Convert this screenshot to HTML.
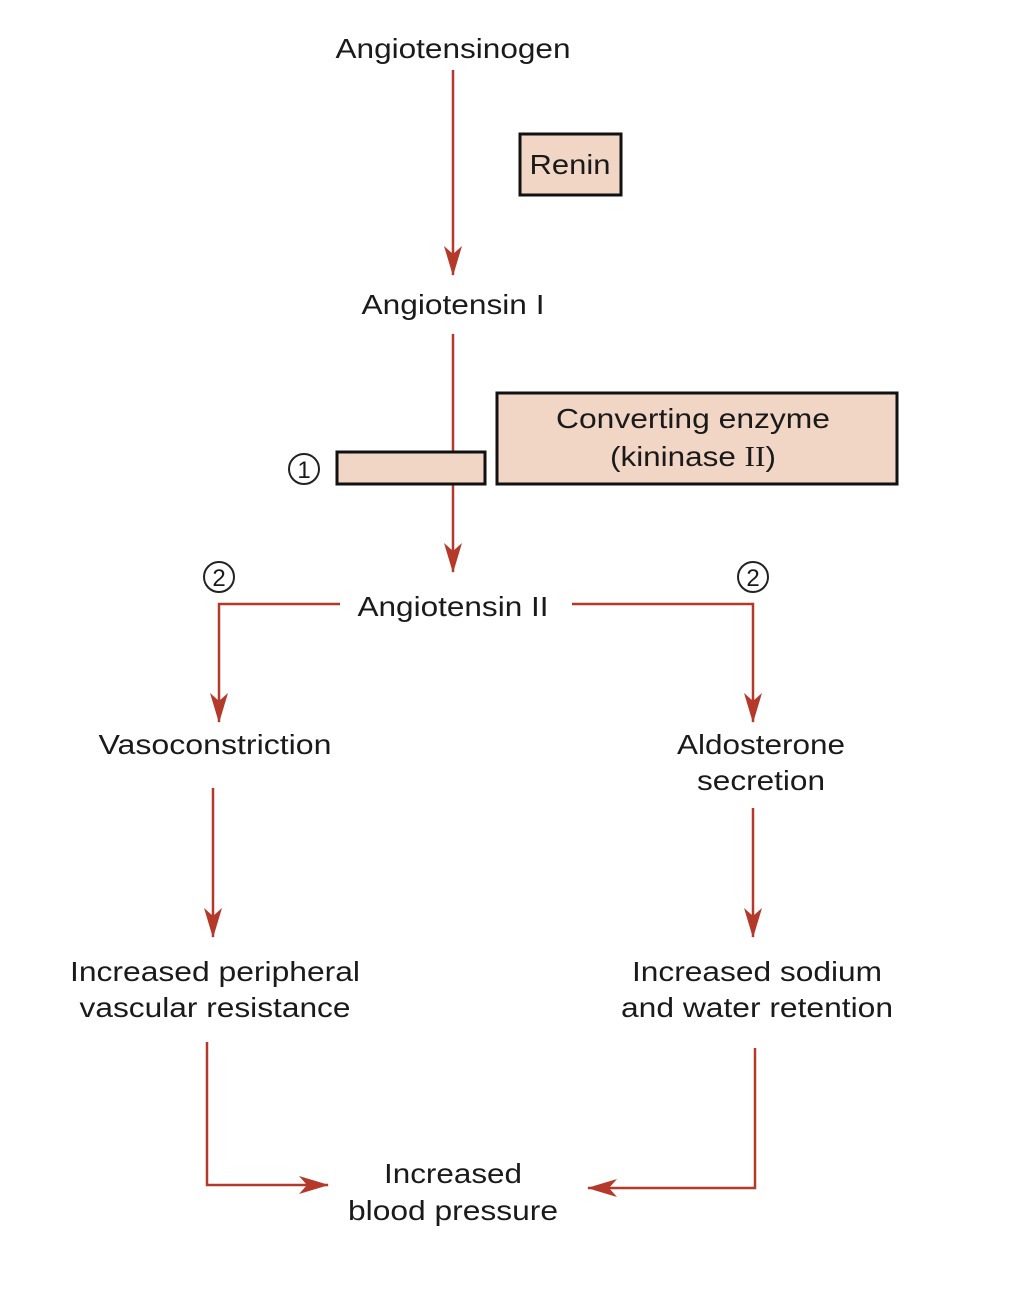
<!DOCTYPE html>
<html><head><meta charset="utf-8"><style>
html,body{margin:0;padding:0;background:#fff;}
svg{display:block;}
text{font-family:"Liberation Sans",Arial,sans-serif;font-size:28px;fill:#1a1a1a;}
</style></head><body>
<svg width="1009" height="1301" viewBox="0 0 1009 1301" xmlns="http://www.w3.org/2000/svg">
<defs>
<marker id="a" markerWidth="30" markerHeight="18" refX="29" refY="9" orient="auto" markerUnits="userSpaceOnUse" viewBox="0 0 30 18">
<path d="M0,0 L30,9 L0,18 L8,9 Z" fill="#b5392a"/>
</marker>
</defs>
<g stroke="#b5392a" stroke-width="2.5" fill="none">
<line x1="453" y1="70" x2="453" y2="275" marker-end="url(#a)"/>
<line x1="453" y1="334" x2="453" y2="572" marker-end="url(#a)"/>
<polyline points="340,604 219,604 219,722" marker-end="url(#a)"/>
<polyline points="572,604 753,604 753,722" marker-end="url(#a)"/>
<line x1="213" y1="788" x2="213" y2="937" marker-end="url(#a)"/>
<line x1="753" y1="808" x2="753" y2="937" marker-end="url(#a)"/>
<polyline points="207,1042 207,1185 328,1185" marker-end="url(#a)"/>
<polyline points="755,1048 755,1188 588,1188" marker-end="url(#a)"/>
</g>
<rect x="520" y="134" width="101" height="61" fill="#f1d5c5" stroke="#111" stroke-width="3"/>
<rect x="337" y="452" width="148" height="32" fill="#f1d5c5" stroke="#111" stroke-width="3"/>
<rect x="497" y="393" width="400" height="91" fill="#f1d5c5" stroke="#111" stroke-width="3"/>
<g fill="none" stroke="#222" stroke-width="2">
<circle cx="304" cy="469" r="15"/>
<circle cx="219" cy="577" r="15"/>
<circle cx="753" cy="577" r="15"/>
</g>
<g text-anchor="middle">
<text x="304" y="478" style="font-size:24px">1</text>
<text x="219" y="586" style="font-size:24px">2</text>
<text x="753" y="586" style="font-size:24px">2</text>
<text x="453" y="58" textLength="235" lengthAdjust="spacingAndGlyphs">Angiotensinogen</text>
<text x="570" y="174" textLength="81" lengthAdjust="spacingAndGlyphs">Renin</text>
<text x="453" y="314" textLength="183" lengthAdjust="spacingAndGlyphs">Angiotensin I</text>
<text x="693" y="428" textLength="274" lengthAdjust="spacingAndGlyphs">Converting enzyme</text>
<text x="693" y="466" textLength="166" lengthAdjust="spacingAndGlyphs">(kininase <tspan style="font-family:'Liberation Serif',serif">II</tspan>)</text>
<text x="453" y="616" textLength="191" lengthAdjust="spacingAndGlyphs">Angiotensin II</text>
<text x="215" y="754" textLength="233" lengthAdjust="spacingAndGlyphs">Vasoconstriction</text>
<text x="761" y="754" textLength="168" lengthAdjust="spacingAndGlyphs">Aldosterone</text>
<text x="761" y="790" textLength="128" lengthAdjust="spacingAndGlyphs">secretion</text>
<text x="215" y="981" textLength="290" lengthAdjust="spacingAndGlyphs">Increased peripheral</text>
<text x="215" y="1017" textLength="271" lengthAdjust="spacingAndGlyphs">vascular resistance</text>
<text x="757" y="981" textLength="250" lengthAdjust="spacingAndGlyphs">Increased sodium</text>
<text x="757" y="1017" textLength="272" lengthAdjust="spacingAndGlyphs">and water retention</text>
<text x="453" y="1183" textLength="138" lengthAdjust="spacingAndGlyphs">Increased</text>
<text x="453" y="1220" textLength="210" lengthAdjust="spacingAndGlyphs">blood pressure</text>
</g>
</svg>
</body></html>
